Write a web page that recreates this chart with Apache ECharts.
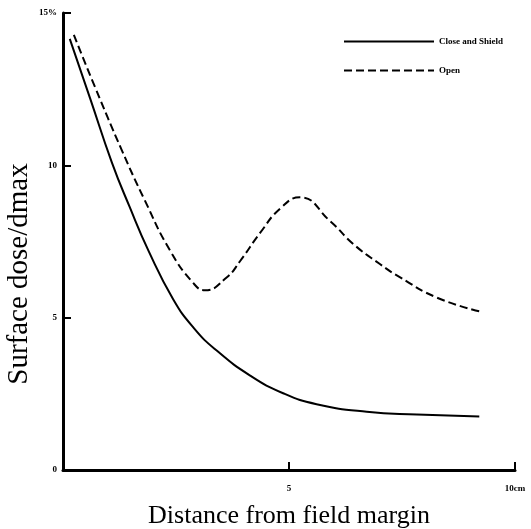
<!DOCTYPE html>
<html>
<head>
<meta charset="utf-8">
<script src="https://cdn.jsdelivr.net/npm/echarts@6/dist/echarts.min.js"></script>
<style>html,body{margin:0;padding:0;background:#fff}#c{width:531px;height:529px}</style>
</head>
<body>
<div id="c"></div>
<script>
const closeShieldX = [0.15, 0.60, 1.08, 1.47, 1.89, 2.44, 2.90, 3.40, 4.14, 4.87, 5.61, 6.72, 7.83, 9.21];
const closeShieldY = [14.15, 12.20, 10.10, 8.65, 7.20, 5.60, 4.65, 3.92, 3.10, 2.52, 2.16, 1.91, 1.82, 1.76];
const openX = [0.24, 0.70, 1.30, 1.81, 2.37, 2.88, 3.14, 3.62, 3.92, 4.36, 4.81, 5.24, 5.91, 6.42, 7.01, 7.46, 8.27, 9.21];
const openY = [14.28, 12.60, 10.50, 8.85, 7.20, 6.14, 5.90, 6.32, 6.86, 7.78, 8.59, 8.95, 8.17, 7.42, 6.76, 6.32, 5.66, 5.21];
const seriesNames = ['Close and Shield', 'Open'];
const yTickLabels = {0: '0', 5: '5', 10: '10', 15: '15%'};
const xTickLabels = {0: '', 5: '5', 10: '10cm'};
const xTitle = 'Distance from field margin';
const yTitle = 'Surface dose/dmax';

const zip = (xs, ys) => xs.map((x, i) => [x, ys[i]]);
const chart = echarts.init(document.getElementById('c'));
const serif = 'Liberation Serif';
chart.setOption({
  animation: false,
  backgroundColor: '#fff',
  grid: {left: 63, right: 16, top: 13, bottom: 59, outerBoundsMode: 'none', containLabel: false},
  legend: {
    orient: 'vertical', left: 338, top: 32, itemWidth: 90, itemHeight: 10, itemGap: 20,
    itemStyle: {opacity: 0},
    textStyle: {fontFamily: serif, fontSize: 9, fontWeight: 'bold', color: '#000'},
    data: seriesNames
  },
  graphic: [{
    type: 'text', rotation: Math.PI / 2,
    x: 19, y: 274,
    style: {text: yTitle, font: '29px "Liberation Serif"', fill: '#000', textAlign: 'center', textVerticalAlign: 'middle'}
  }],
  xAxis: {
    type: 'value', min: 0, max: 10, interval: 5,
    name: xTitle, nameLocation: 'middle', nameGap: 33,
    nameTextStyle: {fontFamily: serif, fontSize: 26, color: '#000'},
    axisLine: {lineStyle: {color: '#000', width: 3}},
    axisTick: {inside: true, length: 8, lineStyle: {color: '#000', width: 2}},
    axisLabel: {margin: 14, fontFamily: serif, fontSize: 9, fontWeight: 'bold', color: '#000',
      formatter: v => xTickLabels[v] !== undefined ? xTickLabels[v] : ''},
    splitLine: {show: false}
  },
  yAxis: {
    type: 'value', min: 0, max: 15, interval: 5,
    axisLine: {show: true, lineStyle: {color: '#000', width: 3}},
    axisTick: {show: true, inside: true, length: 8, lineStyle: {color: '#000', width: 2}},
    axisLabel: {margin: 6, fontFamily: serif, fontSize: 9, fontWeight: 'bold', color: '#000',
      formatter: v => yTickLabels[v] !== undefined ? yTickLabels[v] : ''},
    splitLine: {show: false}
  },
  series: [
    {name: seriesNames[0], type: 'line', smooth: 0.5, symbol: 'none', data: zip(closeShieldX, closeShieldY),
      lineStyle: {color: '#000', width: 2}, itemStyle: {color: '#000'}},
    {name: seriesNames[1], type: 'line', smooth: 0.5, symbol: 'none', data: zip(openX, openY),
      lineStyle: {color: '#000', width: 2, type: [8, 4]}, itemStyle: {color: '#000'}}
  ]
});
</script>
</body>
</html>
